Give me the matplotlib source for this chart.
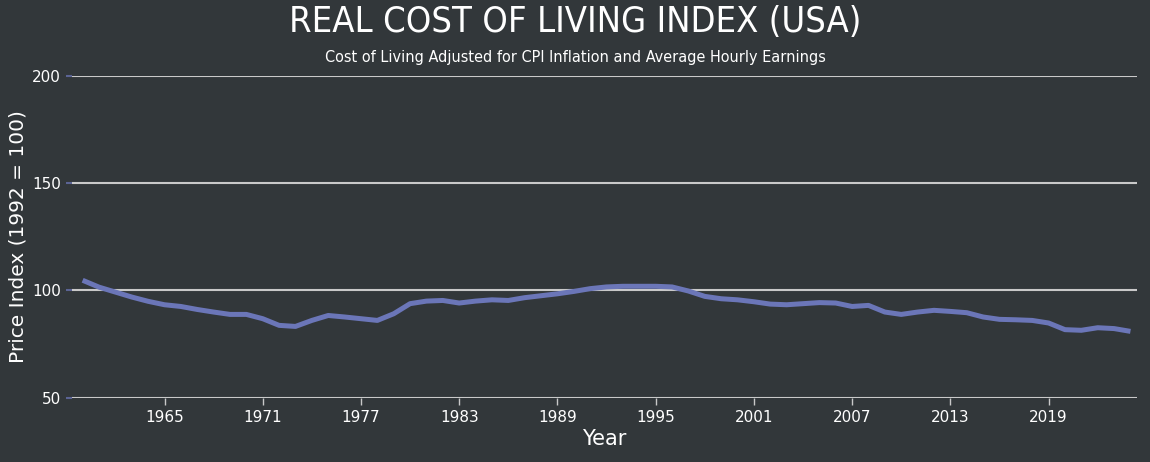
import numpy as np
import matplotlib.pyplot as plt

years = list(range(1960, 2025))
index_values = [104.7, 101.5, 99.2, 96.9, 94.9, 93.3, 92.5, 91.1, 89.9, 88.8,
                88.8, 86.8, 83.7, 83.2, 86.0, 88.3, 87.6, 86.8, 86.0, 89.1,
                93.8, 95.0, 95.3, 94.1, 95.0, 95.6, 95.3, 96.6, 97.5, 98.4,
                99.5, 100.8, 101.6, 101.9, 101.9, 101.9, 101.6, 99.7, 97.2, 96.1,
                95.6, 94.7, 93.6, 93.3, 93.8, 94.3, 94.1, 92.5, 93.0, 89.9,
                88.8, 89.9, 90.7, 90.2, 89.6, 87.6, 86.5, 86.3, 86.0, 84.8,
                81.7, 81.4, 82.6, 82.2, 80.9]
x_ticks = list(range(1965, 2020, 6))
y_ticks = [50, 100, 150, 200]

bg = '#32373a'
line_color = '#6b76b8'
grid_color = '#c9c9c9'

fig = plt.figure(figsize=(11.5, 4.62), dpi=100, facecolor=bg)
ax = fig.add_axes([72 / 1150, 1 - 397.7 / 462, (1137 - 72) / 1150, (397.7 - 75.7) / 462])
ax.set_facecolor(bg)

ax.plot(years, index_values, color=line_color, lw=3.6, solid_joinstyle='round',
        solid_capstyle='butt', zorder=3)

ax.set_xlim(1959.35, 2024.4)
ax.set_ylim(50, 200)
ax.set_yticks(y_ticks)
ax.set_xticks(x_ticks)

for v in y_ticks:
    ax.axhline(v, color=grid_color, lw=1.5, zorder=1)

for s in ax.spines.values():
    s.set_visible(False)

ax.tick_params(axis='y', colors='#5b6494', length=4, width=1.5, pad=4,
               labelcolor='white', labelsize=11)
ax.tick_params(axis='x', colors=grid_color, length=5, width=1, pad=4,
               labelcolor='white', labelsize=11)

ax.set_xlabel('Year', color='white', fontsize=15, labelpad=3)
fig.text(18 / 1150, 0.488, 'Price Index (1992 = 100)', color='white', fontsize=14.5,
         rotation=90, ha='center', va='center')

fig.text(0.5, 0.952, 'REAL COST OF LIVING INDEX (USA)', color='white',
         fontsize=26, ha='center', va='center',
         family=['Liberation Sans Narrow', 'DejaVu Sans'], fontstretch='condensed')
fig.text(0.5, 0.876, 'Cost of Living Adjusted for CPI Inflation and Average Hourly Earnings',
         color='white', fontsize=11.6, ha='center', va='center',
         family=['Liberation Sans Narrow', 'DejaVu Sans'], fontstretch='condensed')

plt.savefig('out.png', dpi=100, facecolor=bg)
